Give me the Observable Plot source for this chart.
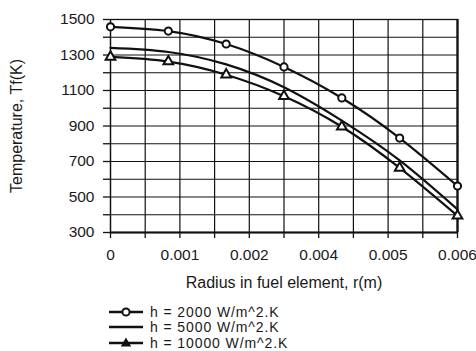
<!DOCTYPE html>
<html><head><meta charset="utf-8">
<script src="https://cdn.jsdelivr.net/npm/d3@7"></script>
<script src="https://cdn.jsdelivr.net/npm/@observablehq/plot@0.6"></script>
<style>
body{margin:0;background:#fff;font-family:"Liberation Sans",Arial,sans-serif;}
#wrap{position:relative;width:476px;height:351px;overflow:hidden;}
#legend{position:absolute;left:109px;top:303.5px;font-size:14px;letter-spacing:0.9px;color:#1a1a1a;}
.row{position:absolute;left:0;display:flex;align-items:center;height:16px;white-space:nowrap;}
.row svg{margin-right:7px;display:block;}
.row span{display:inline-block;line-height:16px;}
</style></head><body><div id="wrap"></div>
<script>
// data
const radius = [0, 0.001, 0.002, 0.003, 0.004, 0.005, 0.006];
const tempH2000 = [1459, 1435, 1362, 1233, 1058, 832, 562];
const tempH5000 = [1340, 1317, 1247, 1118, 930, 706, 430];
const tempH10000 = [1289, 1263, 1189, 1068, 896, 664, 394];
const seriesNames = ["h = 2000 W/m^2.K", "h = 5000 W/m^2.K", "h = 10000 W/m^2.K"];
const seriesMarkers = ["circle", "none", "triangle"];

const xGridTicks = [0, 0.0006, 0.0012, 0.0018, 0.0024, 0.003, 0.0036, 0.0042, 0.0048, 0.0054, 0.006];
const xLabelTicks = [0, 0.0012, 0.0024, 0.0036, 0.0048, 0.006];
const xTickLabels = ["0", "0.001", "0.002", "0.004", "0.005", "0.006"];
const yGridTicks = [300, 400, 500, 600, 700, 800, 900, 1000, 1100, 1200, 1300, 1400, 1500];
const yLabelTicks = [300, 500, 700, 900, 1100, 1300, 1500];
const xTitle = "Radius in fuel element, r(m)";
const yTitle = "Temperature, Tf(K)";

const seriesValues = [tempH2000, tempH5000, tempH10000];
const table = seriesValues.flatMap((vals, s) =>
  vals.map((t, i) => ({r: radius[i], T: t, series: seriesNames[s], marker: seriesMarkers[s]})));
const xLabelMap = new Map(xLabelTicks.map((t, i) => [t, xTickLabels[i]]));

const ink = "#111";
const chart = Plot.plot({
  width: 476, height: 296,
  marginLeft: 110, marginRight: 19, marginTop: 19, marginBottom: 64,
  style: {fontFamily: '"Liberation Sans", Arial, sans-serif', fontSize: "15.5px", color: "#1a1a1a", background: "#fff"},
  x: {type: "linear", domain: [0, 0.006]},
  y: {type: "linear", domain: [300, 1500]},
  marks: [
    Plot.gridX(xGridTicks, {stroke: ink, strokeOpacity: 1, strokeWidth: 1.2}),
    Plot.gridY(yGridTicks, {stroke: ink, strokeOpacity: 1, strokeWidth: 1.2}),
    Plot.frame({stroke: ink, strokeWidth: 1.3}),
    Plot.ruleY([300], {stroke: ink, strokeWidth: 2.2}),
    Plot.ruleX([0.006], {stroke: ink, strokeWidth: 2.2}),
    Plot.axisX(xGridTicks, {tickSize: 6, tickFormat: () => "", stroke: ink, strokeWidth: 1.3, label: null}),
    Plot.axisX(xLabelTicks, {tickSize: 0, tickPadding: 16, tickFormat: d => xLabelMap.get(d), label: null}),
    Plot.axisY(yGridTicks, {tickSize: 7, tickFormat: () => "", stroke: ink, strokeWidth: 1.3, label: null}),
    Plot.axisY(yLabelTicks, {tickSize: 0, tickPadding: 16, tickFormat: d => String(d), label: null}),
    Plot.line(table, {x: "r", y: "T", z: "series", curve: "natural", stroke: ink, strokeWidth: 2.2}),
    Plot.dot(table.filter(d => d.marker !== "none"), {x: "r", y: "T", symbol: "marker", r: 3.6, fill: "#fff", stroke: ink, strokeWidth: 2}),
    Plot.text([xTitle], {frameAnchor: "bottom", dy: 50, text: d => d, fontSize: 16, lineAnchor: "middle", textAnchor: "middle"}),
    Plot.text([yTitle], {frameAnchor: "left", dx: -94, rotate: -90, text: d => d, fontSize: 16, lineAnchor: "middle", textAnchor: "middle"})
  ]
});
const wrap = document.getElementById("wrap");
wrap.appendChild(chart);

// legend below the plot
const legend = document.createElement("div");
legend.id = "legend";
seriesNames.forEach((name, i) => {
  const row = document.createElement("div");
  row.className = "row";
  row.style.top = (i * 15.6) + "px";
  let marker = "";
  if (seriesMarkers[i] === "circle") marker = '<circle cx="17" cy="8" r="3.6" fill="#fff" stroke="#111" stroke-width="2"/>';
  if (seriesMarkers[i] === "triangle") marker = '<path d="M17,3.8 L21.2,11 L12.8,11 Z" fill="#111" stroke="#111" stroke-width="1.2"/>';
  row.innerHTML = '<svg width="34" height="16"><line x1="0" x2="34" y1="8" y2="8" stroke="#111" stroke-width="2.4"/>' + marker + '</svg><span>' + name + '</span>';
  legend.appendChild(row);
});
wrap.appendChild(legend);
</script>
</body></html>
